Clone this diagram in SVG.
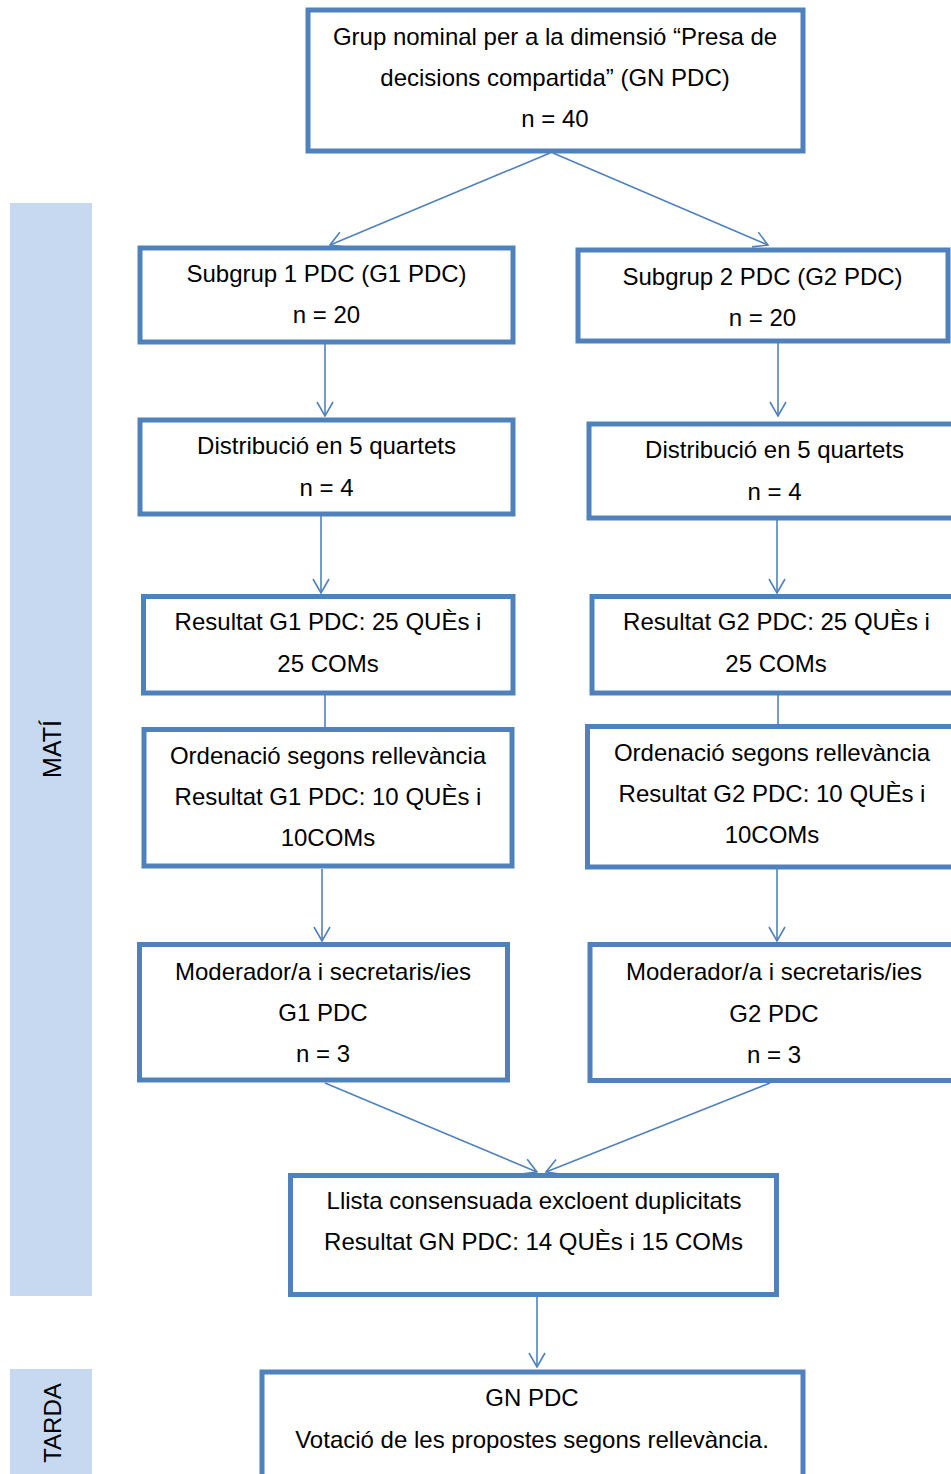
<svg xmlns="http://www.w3.org/2000/svg" width="951" height="1474" viewBox="0 0 951 1474">
<style>
.box{fill:#fff;stroke:#4F81BD;stroke-width:5}
.t{font-family:"Liberation Sans",Arial,sans-serif;font-size:24px;fill:#000;text-anchor:middle}
.s{font-size:25px}
.side{fill:#C6D9F1}
.c{fill:none;stroke:#4F81BD;stroke-width:1.6}
</style>
<defs>
<marker id="ah" viewBox="0 0 16 18" refX="15" refY="9" markerWidth="16" markerHeight="18" markerUnits="userSpaceOnUse" orient="auto">
<path d="M1,1 L15,9 L1,17" fill="none" stroke="#4F81BD" stroke-width="1.6"/>
</marker>
</defs>
<g id="panel-mati">
<rect class="side" x="10" y="203" width="82" height="1093"/>
<text class="t s" transform="translate(61,749) rotate(-90)">MATÍ</text>
</g>
<g id="panel-tarda">
<rect class="side" x="10" y="1369" width="82" height="105"/>
<text class="t" transform="translate(61,1423) rotate(-90)">TARDA</text>
</g>
<g id="connectors">
<line class="c" x1="550" y1="153" x2="330" y2="245" marker-end="url(#ah)"/>
<line class="c" x1="553" y1="153" x2="768" y2="245" marker-end="url(#ah)"/>
<line class="c" x1="325" y1="343" x2="325" y2="416" marker-end="url(#ah)"/>
<line class="c" x1="778" y1="343" x2="778" y2="416" marker-end="url(#ah)"/>
<line class="c" x1="321" y1="515" x2="321" y2="593" marker-end="url(#ah)"/>
<line class="c" x1="777" y1="519" x2="777" y2="593" marker-end="url(#ah)"/>
<line class="c" x1="325" y1="694" x2="325" y2="728"/>
<line class="c" x1="778" y1="694" x2="778" y2="725"/>
<line class="c" x1="322" y1="869" x2="322" y2="941" marker-end="url(#ah)"/>
<line class="c" x1="777" y1="869" x2="777" y2="941" marker-end="url(#ah)"/>
<line class="c" x1="325" y1="1083" x2="537" y2="1172" marker-end="url(#ah)"/>
<line class="c" x1="770" y1="1083" x2="546" y2="1172" marker-end="url(#ah)"/>
<line class="c" x1="537" y1="1297" x2="537" y2="1367" marker-end="url(#ah)"/>
</g>
<g id="n-top">
<rect class="box" x="308" y="10" width="495" height="141"/>
<text class="t" x="555" y="45">Grup nominal per a la dimensió “Presa de</text>
<text class="t" x="555" y="86">decisions compartida” (GN PDC)</text>
<text class="t" x="555" y="127">n = 40</text>
</g>
<g id="n-sub1">
<rect class="box" x="140" y="248" width="373" height="94"/>
<text class="t" x="326.5" y="281.5">Subgrup 1 PDC (G1 PDC)</text>
<text class="t" x="326.5" y="323">n = 20</text>
</g>
<g id="n-sub2">
<rect class="box" x="578" y="250" width="370" height="91"/>
<text class="t" x="762.5" y="284.5">Subgrup 2 PDC (G2 PDC)</text>
<text class="t" x="762.5" y="325.5">n = 20</text>
</g>
<g id="n-dist1">
<rect class="box" x="140" y="420" width="373" height="94"/>
<text class="t" x="326.5" y="453.5">Distribució en 5 quartets</text>
<text class="t" x="326.5" y="495.5">n = 4</text>
</g>
<g id="n-dist2">
<rect class="box" x="589" y="424" width="380" height="94"/>
<text class="t" x="774.5" y="457.5">Distribució en 5 quartets</text>
<text class="t" x="774.5" y="499.5">n = 4</text>
</g>
<g id="n-res1">
<rect class="box" x="143.5" y="596.5" width="369.5" height="96.5"/>
<text class="t" x="328" y="630">Resultat G1 PDC: 25 QUÈs i</text>
<text class="t" x="328" y="672">25 COMs</text>
</g>
<g id="n-res2">
<rect class="box" x="592" y="596.5" width="380" height="96.5"/>
<text class="t" x="776.5" y="630">Resultat G2 PDC: 25 QUÈs i</text>
<text class="t" x="776" y="672">25 COMs</text>
</g>
<g id="n-ord1">
<rect class="box" x="144" y="729.5" width="368" height="136.5"/>
<text class="t" x="328" y="763.5">Ordenació segons rellevància</text>
<text class="t" x="328" y="804.5">Resultat G1 PDC: 10 QUÈs i</text>
<text class="t" x="328" y="845.5">10COMs</text>
</g>
<g id="n-ord2">
<rect class="box" x="587.5" y="726.5" width="385" height="140.5"/>
<text class="t" x="772" y="760.5">Ordenació segons rellevància</text>
<text class="t" x="772" y="802">Resultat G2 PDC: 10 QUÈs i</text>
<text class="t" x="772" y="843">10COMs</text>
</g>
<g id="n-mod1">
<rect class="box" x="139.5" y="944.5" width="368" height="135.5"/>
<text class="t" x="323" y="979.5">Moderador/a i secretaris/ies</text>
<text class="t" x="323" y="1020.5">G1 PDC</text>
<text class="t" x="323" y="1061.5">n = 3</text>
</g>
<g id="n-mod2">
<rect class="box" x="590" y="944.5" width="380" height="136"/>
<text class="t" x="774" y="979.5">Moderador/a i secretaris/ies</text>
<text class="t" x="774" y="1021.5">G2 PDC</text>
<text class="t" x="774" y="1062.5">n = 3</text>
</g>
<g id="n-llista">
<rect class="box" x="290.5" y="1175.5" width="486" height="119"/>
<text class="t" x="534" y="1208.5">Llista consensuada excloent duplicitats</text>
<text class="t" x="533.5" y="1249.5">Resultat GN PDC: 14 QUÈs i 15 COMs</text>
</g>
<g id="n-tarda">
<rect class="box" x="262" y="1372" width="541" height="200"/>
<text class="t" x="532" y="1405.5">GN PDC</text>
<text class="t" x="532" y="1447.5">Votació de les propostes segons rellevància.</text>
</g>
</svg>
